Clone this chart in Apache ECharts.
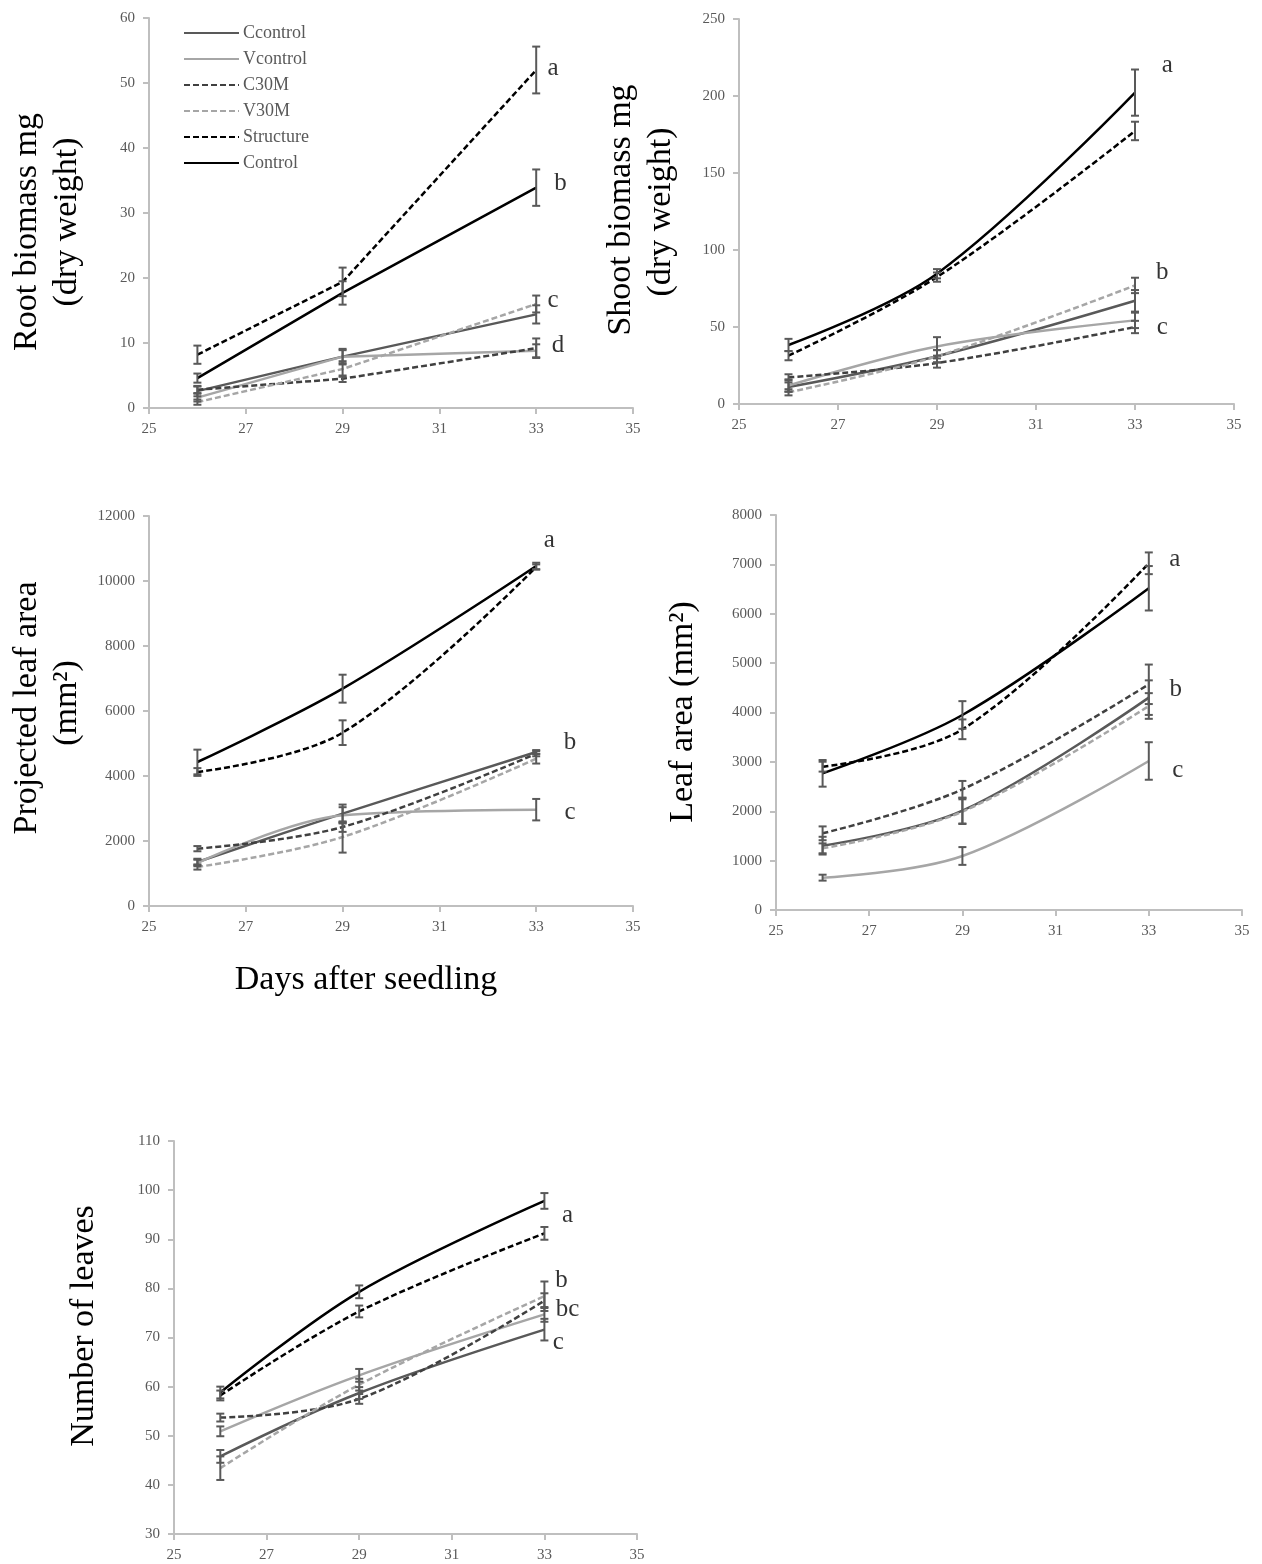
<!DOCTYPE html>
<html>
<head>
<meta charset="utf-8">
<script src="https://cdn.jsdelivr.net/npm/echarts@6/dist/echarts.min.js"></script>
<style>
html,body{margin:0;padding:0;background:#fff;}
#chart{width:1262px;height:1564px;}
</style>
</head>
<body>
<div id="chart"></div>
<script>
// ---------------- DATA ----------------
const days = [26, 29, 33];
const seriesNames = ['Ccontrol', 'Vcontrol', 'C30M', 'V30M', 'Structure', 'Control'];
const xTicks = [25, 27, 29, 31, 33, 35];

// Root biomass mg (dry weight)
const rootCcontrol = [2.6, 7.9, 14.4];
const rootVcontrol = [1.6, 7.9, 8.8];
const rootC30M = [2.8, 4.5, 9.2];
const rootV30M = [0.9, 6.0, 16.0];
const rootStructure = [8.2, 19.4, 52.0];
const rootControl = [4.6, 17.7, 33.9];
const rootErrCcontrol = [0.8, 1.0, 1.4];
const rootErrVcontrol = [0.6, 1.2, 1.0];
const rootErrC30M = [0.5, 0.5, 1.5];
const rootErrV30M = [0.4, 1.2, 1.3];
const rootErrStructure = [1.4, 2.2, 3.6];
const rootErrControl = [0.7, 1.8, 2.8];
const rootLetters = ['a', 'b', 'c', 'd'];
const rootLetterPos = [[33.35, 52.3], [33.5, 34.5], [33.35, 16.6], [33.45, 9.7]];

// Shoot biomass mg (dry weight)
const shootCcontrol = [11, 31, 67];
const shootVcontrol = [12, 37.4, 54.3];
const shootC30M = [17.3, 26.6, 50];
const shootV30M = [7.6, 31, 77];
const shootStructure = [31.4, 82.4, 177.3];
const shootControl = [38.3, 84.6, 202.2];
const shootErrCcontrol = [3, 4, 7];
const shootErrVcontrol = [4, 6, 5];
const shootErrC30M = [2, 3, 4];
const shootErrV30M = [2, 4, 5];
const shootErrStructure = [3, 3, 6];
const shootErrControl = [4, 3, 15];
const shootLetters = ['a', 'b', 'c'];
const shootLetterPos = [[33.65, 220], [33.55, 85.7], [33.55, 49.4]];

// Projected leaf area (mm2)
const projCcontrol = [1354, 2841, 4738];
const projVcontrol = [1323, 2790, 2964];
const projC30M = [1764, 2431, 4687];
const projV30M = [1200, 2123, 4533];
const projStructure = [4123, 5333, 10431];
const projControl = [4431, 6687, 10462];
const projErrCcontrol = [100, 280, 60];
const projErrVcontrol = [100, 250, 330];
const projErrC30M = [80, 150, 80];
const projErrV30M = [80, 480, 150];
const projErrStructure = [120, 380, 80];
const projErrControl = [380, 430, 100];
const projLetters = ['a', 'b', 'c'];
const projLetterPos = [[33.27, 11262], [33.7, 5046], [33.7, 2892]];

// Leaf area (mm2)
const leafCcontrol = [1303, 2012, 4301];
const leafVcontrol = [655, 1094, 3018];
const leafC30M = [1553, 2444, 4571];
const leafV30M = [1249, 1992, 4132];
const leafStructure = [2903, 3660, 7022];
const leafControl = [2768, 3950, 6516];
const leafErrCcontrol = [180, 260, 350];
const leafErrVcontrol = [60, 180, 380];
const leafErrC30M = [140, 170, 400];
const leafErrV30M = [100, 250, 260];
const leafErrStructure = [100, 200, 220];
const leafErrControl = [270, 280, 450];
const leafLetters = ['a', 'b', 'c'];
const leafLetterPos = [[33.56, 7107], [33.58, 4467], [33.62, 2822]];

// Number of leaves
const nlCcontrol = [45.8, 58.7, 71.6];
const nlVcontrol = [50.9, 62.3, 74.7];
const nlC30M = [53.7, 57.5, 77.5];
const nlV30M = [43.4, 60.4, 78.4];
const nlStructure = [58.2, 75.3, 91.2];
const nlControl = [58.8, 79.3, 97.8];
const nlErrCcontrol = [1.3, 1.2, 2.2];
const nlErrVcontrol = [1.0, 1.3, 1.5];
const nlErrC30M = [0.8, 1.0, 1.5];
const nlErrV30M = [2.4, 1.2, 3.0];
const nlErrStructure = [1.0, 1.2, 1.3];
const nlErrControl = [1.2, 1.3, 1.6];
const nlLetters = ['a', 'b', 'bc', 'c'];
const nlLetterPos = [[33.5, 94.8], [33.37, 81.7], [33.5, 75.8], [33.3, 68.9]];

// ---------------- STYLE / LAYOUT ----------------
const FONT = "'Liberation Serif', 'Times New Roman', serif";
const styles = {
  Ccontrol: { color: '#595959', type: 'solid' },
  Vcontrol: { color: '#a6a6a6', type: 'solid' },
  C30M: { color: '#404040', type: [6, 3] },
  V30M: { color: '#a6a6a6', type: [6, 3] },
  Structure: { color: '#000000', type: [6, 3] },
  Control: { color: '#000000', type: 'solid' }
};

const panels = [
  { grid: { left: 149, top: 18, width: 484, height: 390 }, min: 0, max: 60, interval: 10, smooth: false,
    values: [rootCcontrol, rootVcontrol, rootC30M, rootV30M, rootStructure, rootControl],
    errors: [rootErrCcontrol, rootErrVcontrol, rootErrC30M, rootErrV30M, rootErrStructure, rootErrControl],
    letters: rootLetters, letterPos: rootLetterPos },
  { grid: { left: 739, top: 19, width: 495, height: 385 }, min: 0, max: 250, interval: 50, smooth: 0.35,
    values: [shootCcontrol, shootVcontrol, shootC30M, shootV30M, shootStructure, shootControl],
    errors: [shootErrCcontrol, shootErrVcontrol, shootErrC30M, shootErrV30M, shootErrStructure, shootErrControl],
    letters: shootLetters, letterPos: shootLetterPos },
  { grid: { left: 149, top: 516, width: 484, height: 390 }, min: 0, max: 12000, interval: 2000, smooth: 0.35,
    values: [projCcontrol, projVcontrol, projC30M, projV30M, projStructure, projControl],
    errors: [projErrCcontrol, projErrVcontrol, projErrC30M, projErrV30M, projErrStructure, projErrControl],
    letters: projLetters, letterPos: projLetterPos },
  { grid: { left: 776, top: 515, width: 466, height: 395 }, min: 0, max: 8000, interval: 1000, smooth: 0.35,
    values: [leafCcontrol, leafVcontrol, leafC30M, leafV30M, leafStructure, leafControl],
    errors: [leafErrCcontrol, leafErrVcontrol, leafErrC30M, leafErrV30M, leafErrStructure, leafErrControl],
    letters: leafLetters, letterPos: leafLetterPos },
  { grid: { left: 174, top: 1141, width: 463, height: 393 }, min: 30, max: 110, interval: 10, smooth: 0.35,
    values: [nlCcontrol, nlVcontrol, nlC30M, nlV30M, nlStructure, nlControl],
    errors: [nlErrCcontrol, nlErrVcontrol, nlErrC30M, nlErrV30M, nlErrStructure, nlErrControl],
    letters: nlLetters, letterPos: nlLetterPos }
];

const axisLine = { lineStyle: { color: '#bfbfbf', width: 2 } };
const axisTick = { show: true, length: 6, lineStyle: { color: '#bfbfbf', width: 2 } };
const labelStyle = { color: '#595959', fontFamily: FONT, fontSize: 15, formatter: v => String(v) };

const grids = [], xAxes = [], yAxes = [], series = [];

function renderErr(params, api) {
  const x = api.value(0), lo = api.value(1), hi = api.value(2);
  const top = api.coord([x, hi]);
  const bot = api.coord([x, lo]);
  const w = 4;
  const st = { stroke: '#595959', lineWidth: 2 };
  return {
    type: 'group',
    children: [
      { type: 'line', shape: { x1: top[0], y1: top[1], x2: bot[0], y2: bot[1] }, style: st },
      { type: 'line', shape: { x1: top[0] - w, y1: top[1], x2: top[0] + w, y2: top[1] }, style: st },
      { type: 'line', shape: { x1: bot[0] - w, y1: bot[1], x2: bot[0] + w, y2: bot[1] }, style: st }
    ]
  };
}

panels.forEach((p, i) => {
  grids.push(Object.assign({ containLabel: false }, p.grid));
  xAxes.push({
    type: 'value', gridIndex: i, min: 25, max: 35, interval: 2,
    axisLine: axisLine, axisTick: axisTick, splitLine: { show: false },
    axisLabel: Object.assign({ margin: 14 }, labelStyle)
  });
  yAxes.push({
    type: 'value', gridIndex: i, min: p.min, max: p.max, interval: p.interval,
    axisLine: Object.assign({ show: true }, axisLine), axisTick: axisTick, splitLine: { show: false },
    axisLabel: Object.assign({ margin: 14 }, labelStyle)
  });
  seriesNames.forEach((name, k) => {
    const st = styles[name];
    series.push({
      name: name, type: 'line', xAxisIndex: i, yAxisIndex: i,
      data: days.map((d, j) => [d, p.values[k][j]]),
      smooth: p.smooth, showSymbol: false, symbol: 'none',
      color: st.color,
      lineStyle: { color: st.color, width: 2.5, type: st.type },
      z: 2, animation: false
    });
  });
  const errData = [];
  seriesNames.forEach((name, k) => {
    days.forEach((d, j) => {
      const v = p.values[k][j], e = p.errors[k][j];
      errData.push([d, v - e, v + e]);
    });
  });
  series.push({
    type: 'custom', xAxisIndex: i, yAxisIndex: i, renderItem: renderErr,
    data: errData, z: 3, animation: false, silent: true
  });
  series.push({
    type: 'scatter', xAxisIndex: i, yAxisIndex: i, symbolSize: 0.1,
    data: p.letters.map((t, j) => ({ name: t, value: p.letterPos[j] })),
    label: { show: true, position: 'inside', formatter: '{b}', color: '#000', fontFamily: FONT, fontSize: 25 },
    itemStyle: { color: 'rgba(0,0,0,0)' },
    z: 4, animation: false, silent: true
  });
});

function vtitle(x, y, text) {
  return {
    type: 'text', x: x, y: y, rotation: Math.PI / 2,
    style: { text: text, fill: '#000', font: '34px ' + FONT, textAlign: 'center', textVerticalAlign: 'middle' }
  };
}

const graphics = [
  vtitle(27, 232, 'Root biomass mg'),
  vtitle(67, 222, '(dry weight)'),
  vtitle(621, 210, 'Shoot biomass mg'),
  vtitle(661, 212, '(dry weight)'),
  vtitle(27, 708, 'Projected leaf area'),
  vtitle(67, 703, '(mm²)'),
  vtitle(683, 712, 'Leaf area (mm²)'),
  vtitle(84, 1326, 'Number of leaves'),
  { type: 'text', x: 366, y: 980,
    style: { text: 'Days after seedling', fill: '#000', font: '34px ' + FONT, textAlign: 'center', textVerticalAlign: 'middle' } }
];

const chart = echarts.init(document.getElementById('chart'), null, { renderer: 'canvas' });
chart.setOption({
  backgroundColor: '#ffffff',
  animation: false,
  grid: grids,
  xAxis: xAxes,
  yAxis: yAxes,
  legend: {
    data: seriesNames, orient: 'vertical', left: 183, top: 24, padding: 0,
    itemWidth: 55, itemHeight: 14, itemGap: 8,
    itemStyle: { opacity: 0 },
    textStyle: { color: '#595959', fontFamily: FONT, fontSize: 18, padding: [0, 0, 0, -1] },
    selectedMode: false
  },
  graphic: graphics,
  series: series
});
</script>
</body>
</html>
